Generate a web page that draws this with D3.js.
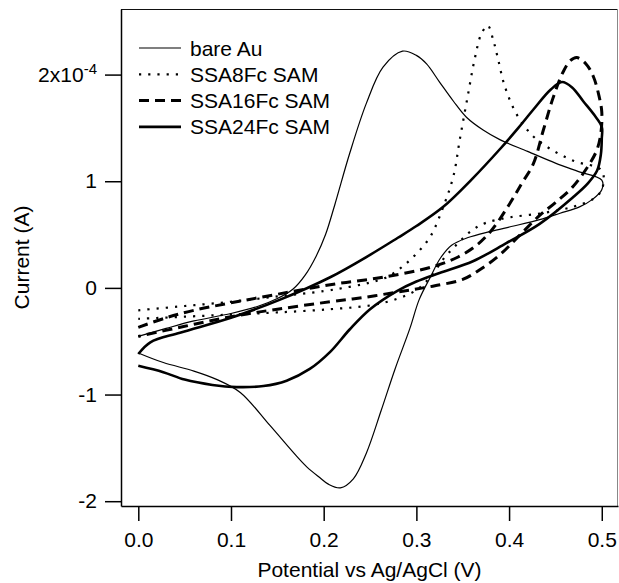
<!DOCTYPE html>
<html>
<head>
<meta charset="utf-8">
<script src="https://cdn.jsdelivr.net/npm/d3@7"></script>
<style>
  body { margin: 0; background: #fff; }
  svg { display: block; }
  text { font-family: "Liberation Sans", Arial, Helvetica, sans-serif; fill: #000; }
</style>
</head>
<body>
<svg id="chart" width="619" height="583"></svg>
<script>
// [potential (V), current (x1e-4 A)] : anodic sweep 0 -> 0.5 V, then return to 0 V
var bareAu = [
  [0.000,-0.455],[0.030,-0.38],[0.060,-0.31],[0.100,-0.24],[0.130,-0.17],[0.150,-0.10],
  [0.167,-0.01],[0.180,0.12],[0.192,0.30],[0.202,0.50],[0.212,0.78],[0.228,1.26],
  [0.246,1.73],[0.264,2.07],[0.285,2.22],[0.300,2.18],[0.311,2.10],[0.325,1.93],
  [0.340,1.75],[0.354,1.60],[0.372,1.48],[0.390,1.39],[0.420,1.28],[0.450,1.17],
  [0.475,1.09],[0.500,1.01],
  [0.500,0.92],[0.490,0.83],[0.476,0.76],[0.455,0.70],[0.433,0.64],[0.405,0.58],
  [0.380,0.53],[0.355,0.47],[0.338,0.40],[0.326,0.28],[0.315,0.10],[0.303,-0.11],
  [0.293,-0.38],[0.277,-0.76],[0.262,-1.15],[0.246,-1.55],[0.232,-1.79],[0.218,-1.875],
  [0.205,-1.84],[0.196,-1.78],[0.182,-1.68],[0.171,-1.58],[0.142,-1.29],[0.110,-0.98],
  [0.085,-0.86],[0.060,-0.78],[0.027,-0.70],[0.000,-0.61]
];
var ssa8 = [
  [0.000,-0.21],[0.050,-0.17],[0.100,-0.13],[0.150,-0.08],[0.200,-0.03],[0.228,0.01],
  [0.250,0.05],[0.268,0.10],[0.285,0.20],[0.300,0.32],[0.315,0.48],[0.329,0.76],
  [0.340,1.05],[0.347,1.40],[0.355,1.78],[0.363,2.15],[0.370,2.38],[0.377,2.46],
  [0.383,2.32],[0.388,2.15],[0.395,1.90],[0.408,1.63],[0.425,1.43],[0.445,1.30],
  [0.470,1.19],[0.500,1.10],
  [0.500,0.92],[0.490,0.83],[0.469,0.76],[0.435,0.70],[0.400,0.66],[0.375,0.61],
  [0.360,0.54],[0.345,0.42],[0.330,0.28],[0.315,0.10],[0.300,-0.02],[0.280,-0.10],
  [0.253,-0.16],[0.207,-0.20],[0.150,-0.23],[0.100,-0.25],[0.050,-0.27],[0.000,-0.29]
];
var ssa16 = [
  [0.000,-0.37],[0.030,-0.28],[0.060,-0.21],[0.100,-0.14],[0.150,-0.06],[0.207,0.03],
  [0.264,0.10],[0.318,0.20],[0.345,0.29],[0.365,0.40],[0.382,0.55],[0.400,0.78],
  [0.413,0.97],[0.426,1.16],[0.437,1.48],[0.447,1.77],[0.458,2.02],[0.466,2.13],
  [0.473,2.16],[0.483,2.10],[0.491,1.98],[0.497,1.80],[0.500,1.65],
  [0.499,1.45],[0.495,1.30],[0.488,1.18],[0.469,0.95],[0.450,0.80],[0.433,0.68],
  [0.411,0.49],[0.390,0.31],[0.370,0.18],[0.350,0.08],[0.320,0.02],[0.300,-0.01],
  [0.279,-0.04],[0.243,-0.09],[0.207,-0.13],[0.150,-0.20],[0.100,-0.27],[0.050,-0.36],
  [0.000,-0.455]
];
var ssa24 = [
  [0.000,-0.62],[0.013,-0.51],[0.045,-0.42],[0.100,-0.28],[0.153,-0.11],[0.207,0.10],
  [0.250,0.31],[0.280,0.47],[0.300,0.58],[0.329,0.76],[0.360,1.02],[0.390,1.30],
  [0.410,1.50],[0.426,1.67],[0.445,1.86],[0.457,1.93],[0.468,1.88],[0.480,1.75],
  [0.492,1.62],[0.500,1.51],
  [0.500,1.40],[0.499,1.25],[0.495,1.10],[0.485,0.98],[0.469,0.85],[0.433,0.60],
  [0.397,0.42],[0.361,0.25],[0.325,0.14],[0.300,0.06],[0.279,-0.03],[0.250,-0.20],
  [0.228,-0.39],[0.207,-0.60],[0.185,-0.76],[0.160,-0.87],[0.135,-0.92],[0.106,-0.93],
  [0.080,-0.91],[0.050,-0.86],[0.027,-0.79],[0.000,-0.73]
];
var seriesNames = ["bare Au", "SSA8Fc SAM", "SSA16Fc SAM", "SSA24Fc SAM"];
var xTicks = [0, 0.1, 0.2, 0.3, 0.4, 0.5];
var yTicks = [-2, -1, 0, 1, 2];

var series = [bareAu, ssa8, ssa16, ssa24];
var styles = [
  {width: 1.2, dash: null},
  {width: 2.2, dash: "2.2,7"},
  {width: 3, dash: "10,6"},
  {width: 2.6, dash: null}
];

var plotLeft = 121, plotRight = 618, plotTop = 9, plotBottom = 506;

var x = d3.scaleLinear().domain([-0.01866, 0.5175]).range([plotLeft, plotRight]);
var y = d3.scaleLinear().domain([-2.045, 2.615]).range([plotBottom, plotTop]);

var svg = d3.select("#chart");

// frame
svg.append("line").attr("x1", plotLeft).attr("x2", plotRight - 0.5)
  .attr("y1", plotTop + 0.5).attr("y2", plotTop + 0.5)
  .attr("stroke", "#111").attr("stroke-width", 1.2);
svg.append("line").attr("x1", plotRight - 0.5).attr("x2", plotRight - 0.5)
  .attr("y1", plotTop).attr("y2", plotBottom)
  .attr("stroke", "#888").attr("stroke-width", 1);

var line = d3.line()
  .x(function (d) { return x(d[0]); })
  .y(function (d) { return y(d[1]); })
  .curve(d3.curveCatmullRom.alpha(0.5));

svg.append("g").selectAll("path")
  .data(series)
  .join("path")
  .attr("d", line)
  .attr("fill", "none")
  .attr("stroke", "#000")
  .attr("stroke-width", function (d, i) { return styles[i].width; })
  .attr("stroke-dasharray", function (d, i) { return styles[i].dash; })
  .attr("stroke-linejoin", "round");

// axes
var yAxis = svg.append("g")
  .attr("transform", "translate(" + plotLeft + ",0)")
  .call(d3.axisLeft(y).tickValues(yTicks).tickSize(16).tickSizeOuter(0).tickPadding(8)
    .tickFormat(function (d) { return d; }));
var xAxis = svg.append("g")
  .attr("transform", "translate(0," + plotBottom + ")")
  .call(d3.axisBottom(x).tickValues(xTicks).tickSize(15).tickSizeOuter(0).tickPadding(11)
    .tickFormat(d3.format(".1f")));

[yAxis, xAxis].forEach(function (g) {
  g.select(".domain").attr("stroke", "#000").attr("stroke-width", 1.5);
  g.selectAll(".tick line").attr("stroke", "#000").attr("stroke-width", 1.5);
  g.selectAll("text").attr("font-size", 21).attr("font-family", null).attr("fill", "#000");
});

// "2x10^-4" label
yAxis.selectAll(".tick text").filter(function (d) { return d === 2; })
  .text(null)
  .call(function (t) {
    t.append("tspan").text("2x10");
    t.append("tspan").attr("font-size", 15).attr("dy", "-0.55em").text("-4");
  });

// axis titles
svg.append("text")
  .attr("x", (plotLeft + plotRight) / 2).attr("y", 577)
  .attr("text-anchor", "middle")
  .attr("font-size", 21)
  .text("Potential vs Ag/AgCl (V)");
svg.append("text")
  .attr("transform", "translate(29," + (plotTop + plotBottom) / 2 + ") rotate(-90)")
  .attr("text-anchor", "middle")
  .attr("font-size", 21)
  .text("Current (A)");

// legend
var legend = svg.append("g").selectAll("g")
  .data(seriesNames)
  .join("g")
  .attr("transform", function (d, i) { return "translate(139," + (48 + i * 26.3) + ")"; });
legend.append("line")
  .attr("x1", 0).attr("x2", 42).attr("y1", 0).attr("y2", 0)
  .attr("stroke", "#000")
  .attr("stroke-width", function (d, i) { return styles[i].width; })
  .attr("stroke-dasharray", function (d, i) { return styles[i].dash; });
legend.append("text")
  .attr("x", 51).attr("dy", "0.36em")
  .attr("font-size", 21)
  .text(function (d) { return d; });
</script>
</body>
</html>
